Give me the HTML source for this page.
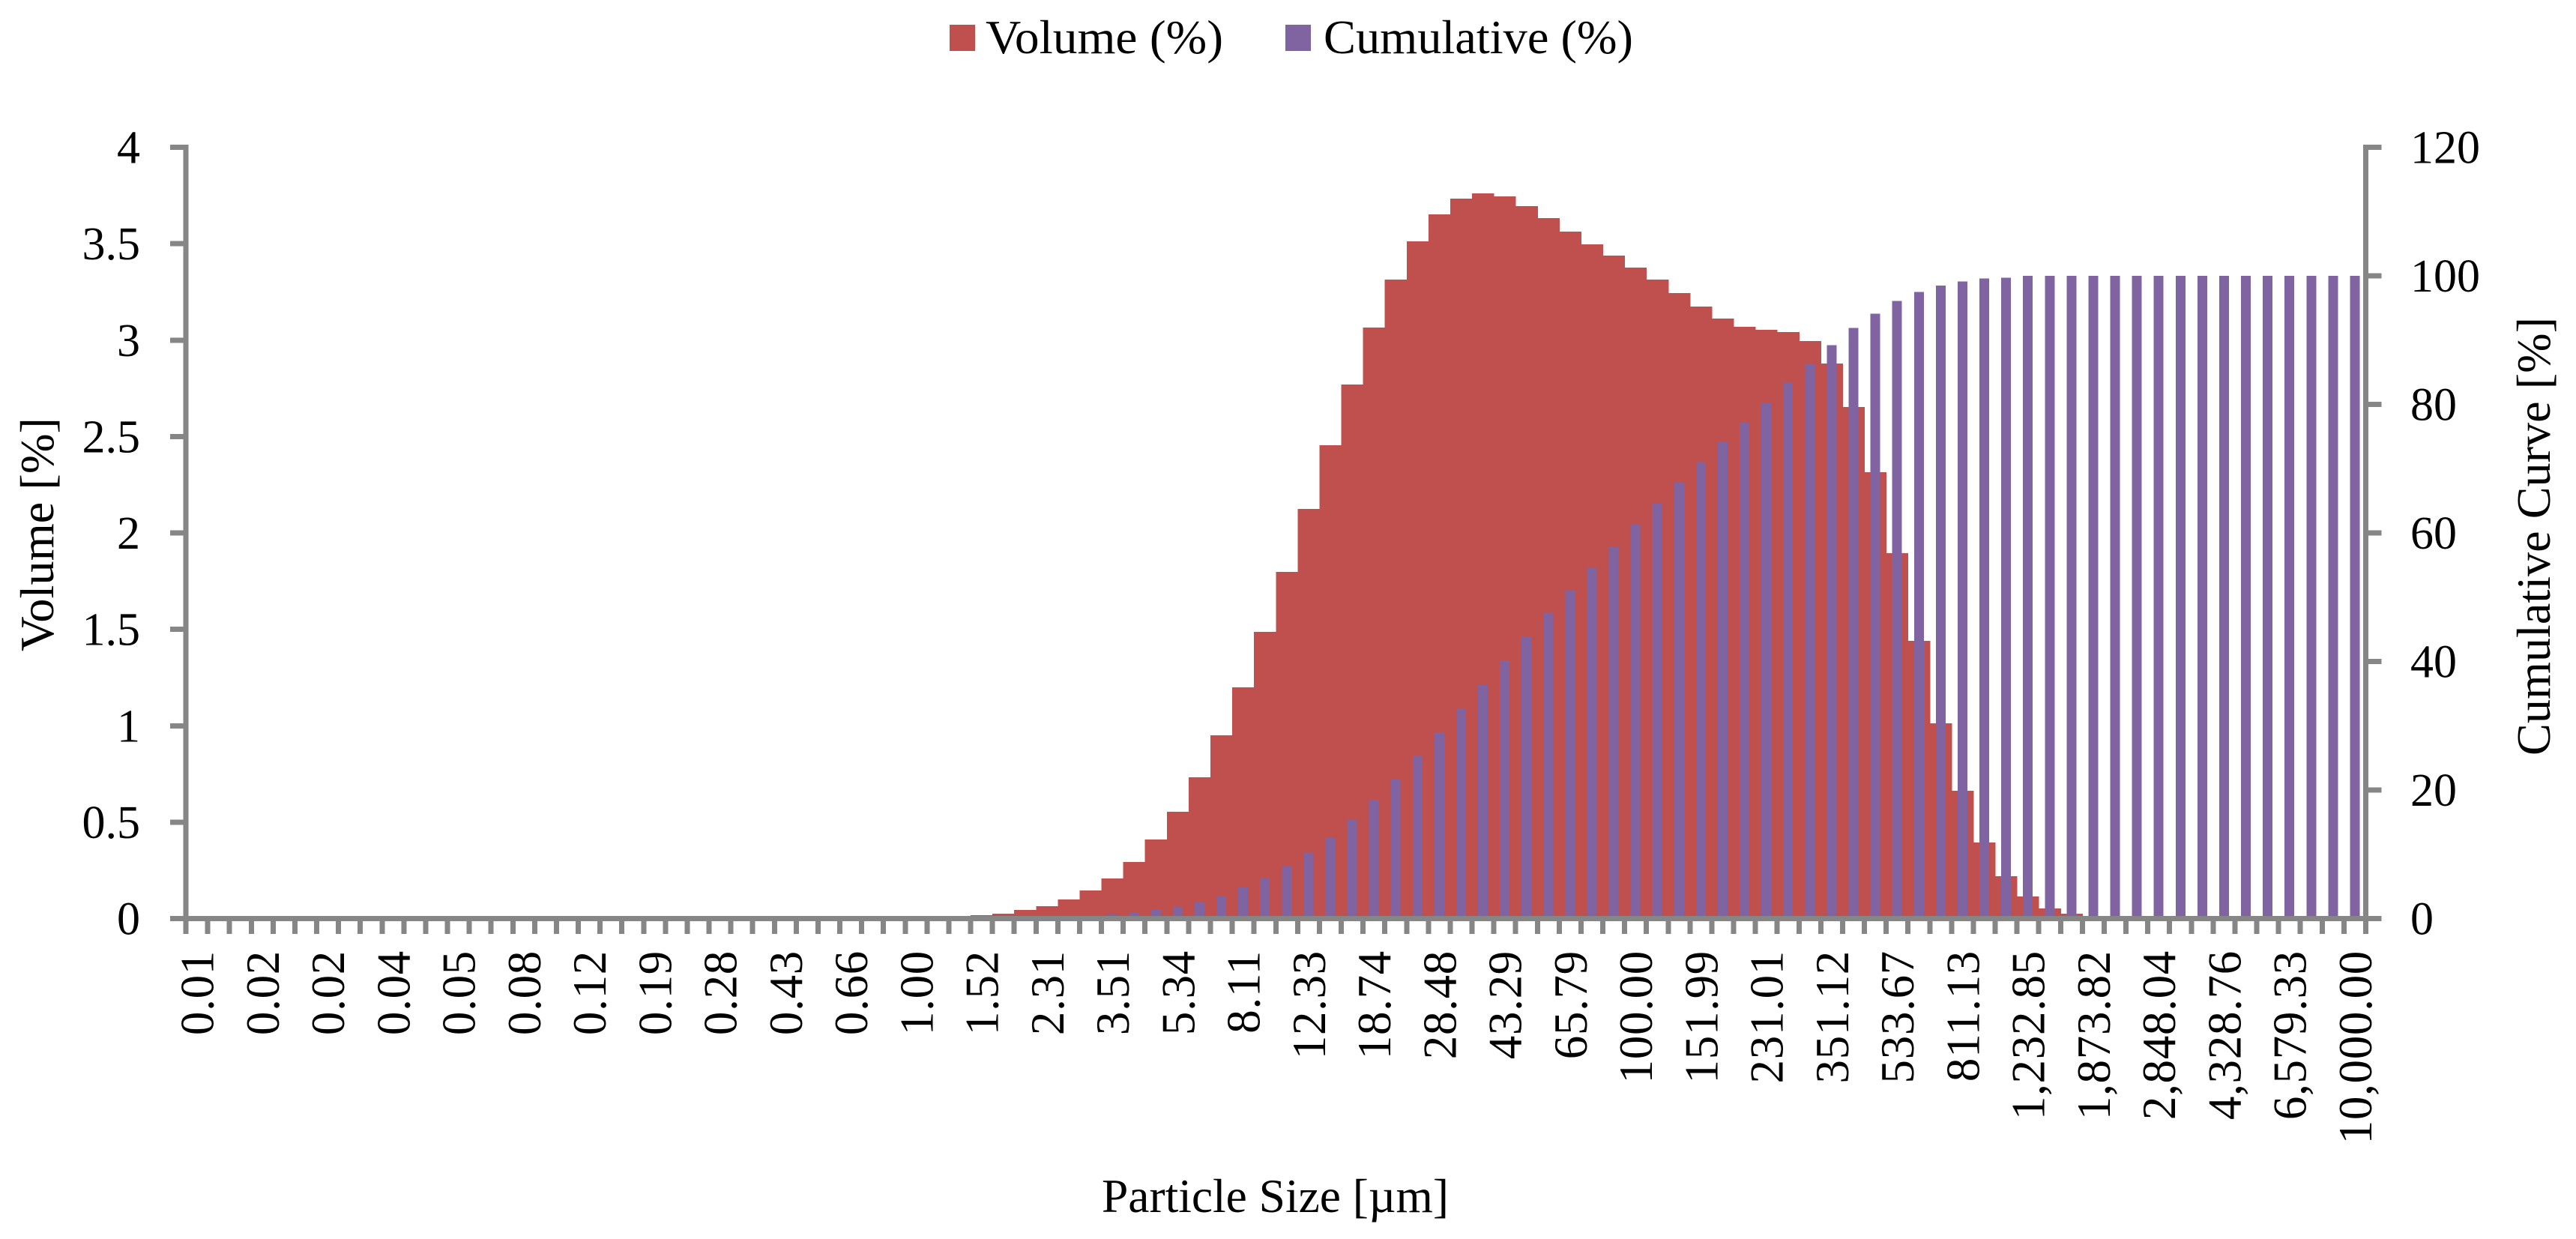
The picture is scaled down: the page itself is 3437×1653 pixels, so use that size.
<!DOCTYPE html>
<html lang="en">
<head>
<meta charset="utf-8">
<title>Particle size distribution</title>
<style>
  html, body { margin: 0; padding: 0; background: #fff; width: 3437px; height: 1653px; overflow: hidden; }
  svg { display: block; }
  text { font-family: "Liberation Serif", serif; fill: #000; }
</style>
</head>
<body>
<svg id="chart" xmlns="http://www.w3.org/2000/svg" width="3437" height="1653" viewBox="0 0 3437 1653">
  <rect x="0" y="0" width="3437" height="1653" fill="#fff"/>
  <g id="bars-volume" shape-rendering="crispEdges"></g>
  <g id="bars-cumulative" shape-rendering="crispEdges"></g>
  <g id="axes" shape-rendering="crispEdges"></g>
  <g id="labels"></g>

  <g>
    <rect x="1267" y="33" width="34" height="35" fill="#C0504D" shape-rendering="crispEdges"/>
    <text x="1315" y="71" font-size="64" textLength="317" lengthAdjust="spacingAndGlyphs">Volume (%)</text>
    <rect x="1715" y="33" width="34" height="35" fill="#8064A2" shape-rendering="crispEdges"/>
    <text x="1766" y="71" font-size="64" textLength="413" lengthAdjust="spacingAndGlyphs">Cumulative (%)</text>
  </g>

  <text x="1470" y="1617" font-size="63" textLength="463" lengthAdjust="spacingAndGlyphs">Particle Size [µm]</text>
  <text transform="translate(71 869) rotate(-90)" x="0" y="0" font-size="63" textLength="312" lengthAdjust="spacingAndGlyphs">Volume [%]</text>
  <text transform="translate(3402 1008) rotate(-90)" x="0" y="0" font-size="64" textLength="585" lengthAdjust="spacingAndGlyphs">Cumulative Curve [%]</text>
</svg>

<script>
// Category tick labels (one label every third category)
const tickLabels = ["0.01","0.02","0.02","0.04","0.05","0.08","0.12","0.19","0.28","0.43","0.66","1.00","1.52","2.31","3.51","5.34","8.11","12.33","18.74","28.48","43.29","65.79","100.00","151.99","231.01","351.12","533.67","811.13","1,232.85","1,873.82","2,848.04","4,328.76","6,579.33","10,000.00"];

// Left axis (Volume %) tick labels
const leftTicks = [0, 0.5, 1, 1.5, 2, 2.5, 3, 3.5, 4];

// Right axis (Cumulative %) tick labels
const rightTicks = [0, 20, 40, 60, 80, 100, 120];

// Volume (%) per category
const volume = [
  0,0,0,0,0,0,0,0,0,0,0,0,0,0,0,0,0,0,0,0,0,0,0,0,0,0,0,0,0,0,0,0,0,0,0,0,
  0.017,0.025,0.045,0.064,0.099,0.146,0.208,0.293,0.41,0.554,0.733,0.95,1.2,1.487,1.798,2.125,2.455,2.77,3.065,3.314,3.512,3.652,3.734,3.761,3.745,3.694,3.632,3.562,3.496,3.438,3.376,3.314,3.244,3.174,3.112,3.069,3.053,3.041,2.995,2.878,2.653,2.315,1.895,1.44,1.013,0.663,0.394,0.219,0.115,0.052,0.025,
  0,0,0,0,0,0,0,0,0,0,0,0,0
];

// Cumulative (%) per category
const cumulative = [
  0,0,0,0,0,0,0,0,0,0,0,0,0,0,0,0,0,0,0,0,0,0,0,0,0,0,0,0,0,0,0,0,0,0,0,0,
  0.02,0.04,0.09,0.15,0.25,0.40,0.64,0.96,1.34,1.89,2.59,3.52,4.84,6.24,8.10,10.2,12.6,15.4,18.47,21.7,25.3,29.0,32.7,36.4,40.2,43.8,47.5,51.0,54.6,57.9,61.3,64.6,67.9,71.0,74.2,77.2,80.2,83.4,86.3,89.2,91.9,94.1,96.1,97.5,98.5,99.1,99.6,99.7,
  100,100,100,100,100,100,100,100,100,100,100,100,100,100,100,100
];

// Layout
const plotLeft = 248, plotRight = 3156.5, plotTop = 196.5, plotBottom = 1225.5;
const labelEvery = 3;
const leftMax = 4, rightMax = 120;
const axisColor = "#868686", volumeColor = "#C0504D", cumulativeColor = "#8064A2";
const axisWidth = 7, tickLen = 21;
const catWidth = (plotRight - plotLeft) / volume.length;
const cumBarWidth = 13;

function xEdge(i) { return plotLeft + catWidth * i; }
function xCenter(i) { return xEdge(i) + catWidth / 2; }
function yLeft(v) { return plotBottom - (v / leftMax) * (plotBottom - plotTop); }
function yRight(v) { return plotBottom - (v / rightMax) * (plotBottom - plotTop); }

const NS = "http://www.w3.org/2000/svg";
const gVol = document.getElementById("bars-volume");
const gCum = document.getElementById("bars-cumulative");
const gAxes = document.getElementById("axes");
const gLabels = document.getElementById("labels");

function makeRect(parent, x, y, w, h, fill) {
  const r = document.createElementNS(NS, "rect");
  r.setAttribute("x", x);
  r.setAttribute("y", y);
  r.setAttribute("width", w);
  r.setAttribute("height", h);
  r.setAttribute("fill", fill);
  parent.appendChild(r);
  return r;
}

function makeText(parent, str, size, anchor, transform) {
  const t = document.createElementNS(NS, "text");
  t.setAttribute("font-size", size);
  t.setAttribute("text-anchor", anchor);
  t.setAttribute("transform", transform);
  t.textContent = str;
  parent.appendChild(t);
  return t;
}

// Volume bars
volume.forEach(function (v, i) {
  const x0 = xEdge(i), x1 = xEdge(i + 1), top = yLeft(v);
  const bar = makeRect(gVol, x0, top, x1 - x0 + 0.5, plotBottom - top, volumeColor);
  
  
});

// Cumulative bars
cumulative.forEach(function (v, i) {
  const top = yRight(v);
  const bar = makeRect(gCum, xCenter(i) - cumBarWidth / 2, top, cumBarWidth, plotBottom - top, cumulativeColor);
  
  
});

// Axis lines
const half = axisWidth / 2;
const leftAxis = makeRect(gAxes, plotLeft - half, plotTop - half, axisWidth, plotBottom - plotTop + axisWidth, axisColor);


const rightAxis = makeRect(gAxes, plotRight - half, plotTop - half, axisWidth, plotBottom - plotTop + axisWidth, axisColor);


const xAxis = makeRect(gAxes, plotLeft - tickLen, plotBottom - half, plotRight - plotLeft + 2 * tickLen, axisWidth, axisColor);



// X ticks
for (let i = 0; i <= volume.length; i++) {
  const tick = makeRect(gAxes, xEdge(i) - half, plotBottom + half, axisWidth, 17, axisColor);
  
  
}

// X labels
tickLabels.forEach(function (str, k) {
  const cx = xCenter(k * labelEvery);
  const label = makeText(gLabels, str, 63, "end", "translate(" + (cx + 22) + " 1268) rotate(-90)");
  label.setAttribute("letter-spacing", "0.7");
  
  
});

// Left axis ticks and labels
leftTicks.forEach(function (v) {
  const y = yLeft(v);
  const tick = makeRect(gAxes, plotLeft - tickLen, y - half, tickLen, axisWidth, axisColor);
  
  
  const label = makeText(gLabels, String(v), 62, "end", "translate(187 " + (y + 21) + ")");
  
  
});

// Right axis ticks and labels
rightTicks.forEach(function (v) {
  const y = yRight(v);
  const tick = makeRect(gAxes, plotRight, y - half, tickLen, axisWidth, axisColor);
  
  
  const label = makeText(gLabels, String(v), 62, "start", "translate(3216 " + (y + 21) + ")");
  
  
});
</script>
</body>
</html>
